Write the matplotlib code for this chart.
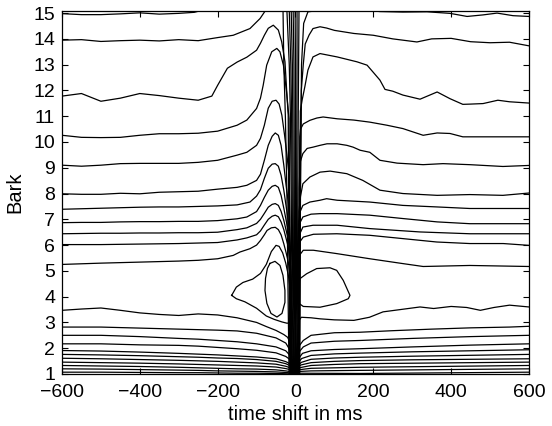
import matplotlib
matplotlib.use("Agg")
import matplotlib.pyplot as plt

plt.rcParams['font.family'] = ['Liberation Sans', 'DejaVu Sans']

# ---------------- axis ticks ----------------
x_ticks = [-600, -400, -200, 0, 200, 400, 600]
y_ticks = list(range(1, 16))

# ---------------- left-side contour lines (x in ms, y in Bark) ----------------
L15_x = [-600, -550, -500, -450, -400, -350, -300, -260, -230, -150, -60, -32, -30, -26, -22, -19, -16.5]
L15_y = [14.98, 14.94, 14.94, 14.97, 15.01, 14.96, 14.99, 15.03, 15.15, 15.2, 15.2, 15.1, 13.0, 11.0, 8.0, 4.0, 1.0]

L13_9_x = [-600, -550, -500, -450, -400, -350, -300, -250, -200, -160, -117, -91, -78, -72]
L13_9_y = [13.95, 13.97, 13.9, 13.93, 13.95, 13.92, 13.97, 13.93, 14.05, 14.14, 14.4, 14.79, 15.08, 15.3]

L11_7_x = [-600, -550, -500, -450, -400, -350, -300, -250, -215, -200, -175, -150, -125, -100, -90, -80, -70,
           -57, -44, -35.5, -27, -23, -18.7, -17.5, -16, -14.5]
L11_7_y = [11.78, 11.88, 11.58, 11.7, 11.88, 11.8, 11.7, 11.62, 11.78, 12.2, 12.86, 13.1, 13.29, 13.56, 13.83,
           14.14, 14.41, 14.53, 14.34, 13.89, 13.11, 12.08, 11.04, 8.0, 5.0, 1.0]

L10_2_x = [-600, -550, -500, -450, -400, -350, -300, -250, -200, -150, -125, -100, -90, -83, -74, -61, -48, -40,
           -31, -23, -16.5, -15.3, -14.3, -13.6]
L10_2_y = [10.26, 10.18, 10.17, 10.18, 10.26, 10.32, 10.32, 10.34, 10.42, 10.65, 10.85, 11.3, 11.7, 12.2, 12.98,
           13.5, 13.63, 13.5, 12.98, 11.94, 10.91, 8.0, 5.0, 1.0]

L9_1_x = [-600, -550, -500, -450, -400, -350, -300, -250, -200, -150, -125, -100, -90, -80, -70, -60, -50, -42,
          -35, -28, -22, -16.5, -14.5, -13.5, -12.7]
L9_1_y = [9.1, 9.06, 9.1, 9.16, 9.17, 9.17, 9.17, 9.21, 9.29, 9.49, 9.6, 9.87, 10.14, 10.65, 11.31, 11.58, 11.62,
          11.47, 11.04, 10.26, 9.5, 8.7, 7.0, 4.5, 1.0]

L8_0_x = [-600, -550, -500, -450, -400, -350, -300, -250, -200, -150, -125, -100, -90, -80, -70, -60, -52, -44,
          -37, -30, -24, -18, -13.5, -12.6, -11.8]
L8_0_y = [7.99, 7.97, 7.97, 8.01, 7.99, 8.05, 8.07, 8.09, 8.17, 8.24, 8.32, 8.51, 8.75, 9.29, 9.87, 10.22, 10.35,
          10.26, 9.87, 9.1, 8.3, 7.6, 6.0, 4.0, 1.0]

L7_4_x = [-600, -550, -500, -450, -400, -350, -300, -250, -200, -150, -117, -100, -90, -80, -70, -60, -52, -44,
          -37, -30, -24, -18, -13, -11.8, -10.9]
L7_4_y = [7.39, 7.41, 7.43, 7.45, 7.47, 7.48, 7.48, 7.5, 7.52, 7.56, 7.67, 7.9, 8.15, 8.59, 8.98, 9.14, 9.16,
          9.06, 8.71, 8.13, 7.5, 6.9, 5.5, 3.5, 1.0]

L6_9_x = [-600, -550, -500, -450, -400, -350, -300, -250, -200, -150, -125, -100, -90, -80, -70, -60, -52, -44,
          -37, -30, -24, -18, -12.5, -11, -10]
L6_9_y = [6.87, 6.88, 6.88, 6.9, 6.91, 6.91, 6.92, 6.92, 6.95, 7.02, 7.09, 7.3, 7.54, 7.85, 8.13, 8.28, 8.32,
          8.24, 7.93, 7.43, 6.96, 6.5, 5.2, 3.2, 1.0]

L6_4_x = [-600, -550, -500, -450, -400, -350, -300, -250, -200, -150, -125, -100, -90, -80, -70, -60, -52, -44,
          -37, -30, -24, -18, -12, -10.2, -9.2]
L6_4_y = [6.44, 6.45, 6.46, 6.46, 6.47, 6.47, 6.48, 6.48, 6.5, 6.6, 6.67, 6.84, 7.0, 7.23, 7.47, 7.58, 7.61,
          7.54, 7.31, 6.96, 6.57, 6.2, 5.0, 3.0, 1.0]

L6_0_x = [-600, -550, -500, -450, -400, -350, -300, -250, -200, -150, -125, -100, -90, -80, -70, -60, -52, -44,
          -37, -30, -24, -18, -11.5, -9.6, -8.4]
L6_0_y = [6.02, 6.02, 6.02, 6.03, 6.04, 6.05, 6.06, 6.08, 6.1, 6.2, 6.28, 6.4, 6.55, 6.78, 7.0, 7.12, 7.16,
          7.1, 6.9, 6.6, 6.25, 5.9, 4.8, 2.8, 1.0]

L5_2_x = [-600, -500, -400, -300, -250, -200, -160, -143, -117, -100, -90, -80, -73, -62, -52, -44, -37, -30,
          -24, -18, -11, -9, -7.8]
L5_2_y = [5.25, 5.3, 5.34, 5.38, 5.41, 5.47, 5.6, 5.73, 5.86, 6.0, 6.18, 6.4, 6.57, 6.67, 6.69, 6.6, 6.4, 6.05,
          5.7, 5.3, 4.5, 2.6, 1.0]

# closed loops around the local extremum left of zero
outer_loop_x = [-164, -152, -135, -110, -90, -75, -62, -50, -42, -33, -25, -18, -13, -10.5, -10, -14, -22, -35,
                -55, -75, -100, -130, -152, -164]
outer_loop_y = [4.05, 4.37, 4.55, 4.68, 4.9, 5.25, 5.75, 5.99, 5.95, 5.7, 5.3, 4.8, 4.2, 3.6, 3.05, 2.98, 2.97,
                3.02, 3.12, 3.25, 3.55, 3.8, 3.92, 4.05]
inner_loop_x = [-65.5, -52.7, -39.8, -32.2, -27.1, -27.1, -34.7, -47.6, -63, -73.5, -78.4, -77, -72, -65.5]
inner_loop_y = [5.29, 5.37, 5.21, 4.83, 4.24, 3.78, 3.35, 3.21, 3.35, 3.74, 4.24, 4.71, 5.1, 5.29]

# lower left lines
L3_5_x = [-600, -550, -500, -450, -400, -350, -300, -250, -200, -150, -100, -75, -50, -30, -20, -14, -10, -8.6]
L3_5_y = [3.47, 3.52, 3.56, 3.47, 3.37, 3.31, 3.27, 3.33, 3.29, 3.18, 3.0, 2.84, 2.69, 2.53, 2.42, 2.2, 1.6, 1.0]
low_x = [-600, -500, -400, -300, -250, -200, -150, -100, -50]
L2_8_y = [2.82, 2.82, 2.78, 2.74, 2.72, 2.7, 2.67, 2.58, 2.4]
L2_5_y = [2.5, 2.5, 2.45, 2.38, 2.35, 2.3, 2.25, 2.17, 2.05]
L2_1_y = [2.17, 2.17, 2.13, 2.11, 2.08, 2.03, 1.98, 1.92, 1.82]
L1_9_y = [1.91, 1.89, 1.85, 1.8, 1.77, 1.74, 1.7, 1.66, 1.59]
L1_8_y = [1.76, 1.74, 1.71, 1.67, 1.65, 1.62, 1.6, 1.56, 1.49]
L1_6_y = [1.61, 1.59, 1.56, 1.53, 1.51, 1.49, 1.46, 1.43, 1.38]
L1_5_y = [1.46, 1.44, 1.42, 1.39, 1.37, 1.35, 1.33, 1.31, 1.27]
L1_3_y = [1.33, 1.31, 1.29, 1.26, 1.24, 1.22, 1.2, 1.19, 1.16]
L1_2_y = [1.2, 1.19, 1.17, 1.15, 1.14, 1.12, 1.11, 1.1, 1.08]
L1_1_y = [1.07, 1.07, 1.06, 1.05, 1.05, 1.04, 1.03, 1.03, 1.02]
# near-zero ends of those lower lines (x then y)
L2_8_end_x = [-25, -15, -10, -8.2]; L2_8_end_y = [2.2, 1.95, 1.5, 1.0]
L2_5_end_x = [-25, -14, -9.5, -7.8]; L2_5_end_y = [1.9, 1.72, 1.4, 1.0]
L2_1_end_x = [-25, -13, -9, -7.4]; L2_1_end_y = [1.68, 1.55, 1.3, 1.0]
L1_9_end_x = [-25, -12, -8.5, -7.0]; L1_9_end_y = [1.48, 1.38, 1.2, 1.0]
L1_8_end_x = [-25, -11, -8, -6.6]; L1_8_end_y = [1.4, 1.3, 1.15, 1.0]
L1_6_end_x = [-25, -10, -7.5, -6.2]; L1_6_end_y = [1.3, 1.22, 1.1, 1.0]
L1_5_end_x = [-25, -9, -7, -5.8]; L1_5_end_y = [1.21, 1.15, 1.07, 1.0]
L1_3_end_x = [-25, -8, -6.5, -5.4]; L1_3_end_y = [1.12, 1.08, 1.04, 1.0]
L1_2_end_x = [-25, -7, -5.0]; L1_2_end_y = [1.06, 1.03, 1.0]
L1_1_end_x = [-25, -4.6]; L1_1_end_y = [1.01, 1.0]

# ---------------- central bundle (lines running top to bottom) ----------------
bundle_y = [15.08, 13, 11, 8, 4, 1]
P1_x = [-22, -16, -13, -11, -9, -4.5]
P2_x = [-16, -12, -10, -8.5, -7, -3.5]
P3_x = [-11, -8, -7, -6, -5, -2.5]
P4_x = [-6, -4, -3.5, -3, -2.5, -1.3]
P5_x = [-1, 0, 0, 0, 0, 0]
P6_x = [4, 4, 3.5, 3, 2.5, 1.0]
P7_x = [9, 8, 7, 6, 5, 2.0]

# ---------------- right-side contour lines ----------------
R14_8_x = [11, 12.8, 15.5, 21, 32, 60, 120, 190, 217, 276, 338, 397, 441, 482, 518, 559, 600]
R14_8_y = [1.0, 8.0, 13.0, 14.6, 15.05, 15.1, 15.1, 15.1, 15.06, 15.04, 15.05, 14.99, 14.87, 14.93, 15.0, 14.9, 14.87]

R13_7_x = [10, 11.5, 13, 15, 20, 25, 35, 45, 63, 80, 100, 150, 200, 250, 312, 350, 400, 450, 500, 550, 600]
R13_7_y = [1.0, 5.0, 9.0, 12.0, 13.0, 13.8, 14.15, 14.4, 14.47, 14.42, 14.33, 14.21, 14.14, 14.0, 13.88, 14.0,
           14.02, 13.89, 13.85, 13.87, 13.73]

R11_5_x = [9.5, 10.5, 11.5, 12.5, 17, 24, 32, 45, 63, 80, 107, 158, 184, 200, 217, 230, 250, 276, 320, 364, 397,
           430, 450, 482, 520, 550, 600]
R11_5_y = [1.0, 5.0, 9.0, 11.2, 11.62, 12.14, 12.79, 13.3, 13.43, 13.38, 13.3, 13.11, 12.98, 12.7, 12.4, 12.04,
           11.97, 11.82, 11.66, 11.94, 11.68, 11.46, 11.47, 11.49, 11.62, 11.56, 11.51]

R10_2_x = [8.6, 9.3, 10.0, 11, 13, 20, 37, 55, 71, 107, 150, 191, 235, 276, 328, 364, 397, 430, 466, 533, 600]
R10_2_y = [1.0, 5.0, 8.5, 10.2, 10.5, 10.7, 10.84, 10.93, 10.97, 10.9, 10.85, 10.77, 10.65, 10.52, 10.26, 10.35,
           10.33, 10.2, 10.2, 10.2, 10.2]

R9_0_x = [8.2, 8.8, 9.5, 12, 19, 30, 45, 63, 81, 107, 132, 148, 166, 191, 217, 261, 328, 379, 448, 533, 600]
R9_0_y = [1.0, 4.5, 8.2, 9.22, 9.55, 9.75, 9.8, 9.87, 9.93, 9.93, 9.87, 9.8, 9.68, 9.6, 9.29, 9.18, 9.12, 9.16,
          9.12, 9.05, 9.09]

R8_0_x = [7.8, 8.4, 9, 13, 19, 37, 63, 89, 132, 173, 217, 276, 364, 448, 533, 600]
R8_0_y = [1.0, 4.0, 7.3, 7.9, 8.38, 8.64, 8.83, 8.87, 8.77, 8.51, 8.13, 8.0, 7.93, 7.96, 7.93, 8.02]

R7_4_x = [7.4, 8.0, 8.6, 12, 19, 37, 63, 80, 107, 191, 276, 364, 448, 600]
R7_4_y = [1.0, 3.8, 6.9, 7.3, 7.54, 7.67, 7.74, 7.8, 7.74, 7.67, 7.54, 7.48, 7.42, 7.42]

R6_8_x = [7, 7.6, 8.2, 11, 19, 40, 63, 107, 191, 276, 364, 448, 600]
R6_8_y = [1.0, 3.5, 6.4, 6.85, 7.09, 7.2, 7.22, 7.22, 7.16, 7.03, 6.9, 6.83, 6.83]

R6_4_x = [6.6, 7.2, 7.8, 10, 19, 45, 107, 191, 320, 448, 600]
R6_4_y = [1.0, 3.3, 6.0, 6.4, 6.7, 6.77, 6.77, 6.64, 6.51, 6.44, 6.44]

R6_0_x = [6.2, 6.8, 7.5, 10, 20, 46, 106, 191, 277, 363, 448, 534, 600]
R6_0_y = [1.0, 3.1, 5.7, 6.1, 6.31, 6.42, 6.44, 6.38, 6.25, 6.12, 6.06, 6.06, 5.99]

R5_2_x = [5.8, 6.4, 7.2, 10, 20, 46, 106, 191, 277, 328, 448, 600]
R5_2_y = [1.0, 2.9, 5.2, 5.6, 5.8, 5.8, 5.67, 5.47, 5.28, 5.17, 5.21, 5.17]

arch_x = [7, 11.6, 28.8, 54.5, 88.7, 105.9, 122.8, 140, 135.7, 106, 63, 20, 8, 7]
arch_y = [4.4, 4.7, 4.89, 5.09, 5.12, 5.02, 4.63, 4.05, 3.92, 3.73, 3.59, 3.62, 3.75, 4.4]

R3_6_x = [5.4, 6, 7, 10, 15, 40, 63, 100, 150, 190, 225, 270, 320, 355, 400, 440, 475, 510, 550, 600]
R3_6_y = [1.0, 2.2, 2.9, 3.1, 3.2, 3.18, 3.14, 3.1, 3.08, 3.2, 3.41, 3.5, 3.6, 3.54, 3.62, 3.58, 3.47, 3.58,
          3.67, 3.6]

R2_8_x = [5, 6, 10, 20, 40, 100, 166, 250, 350, 450, 550, 600]
R2_8_y = [1.0, 1.6, 2.1, 2.3, 2.5, 2.6, 2.62, 2.68, 2.74, 2.79, 2.82, 2.85]
R2_5_x = [4.6, 5.6, 9, 20, 40, 100, 166, 300, 450, 600]
R2_5_y = [1.0, 1.5, 1.85, 2.05, 2.2, 2.27, 2.3, 2.38, 2.45, 2.5]
R2_2_x = [4.2, 5.2, 8, 18, 40, 100, 166, 300, 450, 600]
R2_2_y = [1.0, 1.4, 1.6, 1.8, 1.9, 1.95, 1.98, 2.05, 2.12, 2.17]
R1_9_x = [3.8, 4.8, 7, 16, 40, 100, 166, 300, 600]
R1_9_y = [1.0, 1.3, 1.45, 1.6, 1.72, 1.78, 1.81, 1.86, 1.94]
R1_8_x = [3.4, 4.4, 6.5, 15, 40, 100, 166, 300, 600]
R1_8_y = [1.0, 1.22, 1.33, 1.45, 1.57, 1.62, 1.65, 1.69, 1.76]
R1_6_x = [3, 4, 6, 14, 40, 100, 166, 300, 600]
R1_6_y = [1.0, 1.16, 1.25, 1.35, 1.44, 1.49, 1.52, 1.55, 1.59]
R1_5_x = [2.6, 3.6, 5.5, 13, 40, 100, 166, 600]
R1_5_y = [1.0, 1.1, 1.17, 1.25, 1.33, 1.37, 1.4, 1.46]
R1_3_x = [2.2, 3.2, 5, 12, 40, 166, 600]
R1_3_y = [1.0, 1.06, 1.1, 1.17, 1.22, 1.26, 1.33]
R1_2_x = [1.8, 3, 11, 40, 166, 600]
R1_2_y = [1.0, 1.04, 1.1, 1.12, 1.14, 1.2]
R1_1_x = [1.5, 10, 166, 600]
R1_1_y = [1.0, 1.03, 1.02, 1.07]

# ---------------- assemble ----------------
lines = [
    (L15_x, L15_y), (L13_9_x, L13_9_y), (L11_7_x, L11_7_y), (L10_2_x, L10_2_y), (L9_1_x, L9_1_y),
    (L8_0_x, L8_0_y), (L7_4_x, L7_4_y), (L6_9_x, L6_9_y), (L6_4_x, L6_4_y), (L6_0_x, L6_0_y),
    (L5_2_x, L5_2_y), (outer_loop_x, outer_loop_y), (inner_loop_x, inner_loop_y), (L3_5_x, L3_5_y),
]
for ys, ex, ey in [(L2_8_y, L2_8_end_x, L2_8_end_y), (L2_5_y, L2_5_end_x, L2_5_end_y),
                   (L2_1_y, L2_1_end_x, L2_1_end_y), (L1_9_y, L1_9_end_x, L1_9_end_y),
                   (L1_8_y, L1_8_end_x, L1_8_end_y), (L1_6_y, L1_6_end_x, L1_6_end_y),
                   (L1_5_y, L1_5_end_x, L1_5_end_y), (L1_3_y, L1_3_end_x, L1_3_end_y),
                   (L1_2_y, L1_2_end_x, L1_2_end_y), (L1_1_y, L1_1_end_x, L1_1_end_y)]:
    lines.append((low_x + ex, ys + ey))
for px in [P1_x, P2_x, P3_x, P4_x, P5_x, P6_x, P7_x]:
    lines.append((px, bundle_y))
lines += [
    (R14_8_x, R14_8_y), (R13_7_x, R13_7_y), (R11_5_x, R11_5_y), (R10_2_x, R10_2_y), (R9_0_x, R9_0_y),
    (R8_0_x, R8_0_y), (R7_4_x, R7_4_y), (R6_8_x, R6_8_y), (R6_4_x, R6_4_y), (R6_0_x, R6_0_y),
    (R5_2_x, R5_2_y), (arch_x, arch_y), (R3_6_x, R3_6_y), (R2_8_x, R2_8_y), (R2_5_x, R2_5_y),
    (R2_2_x, R2_2_y), (R1_9_x, R1_9_y), (R1_8_x, R1_8_y), (R1_6_x, R1_6_y), (R1_5_x, R1_5_y),
    (R1_3_x, R1_3_y), (R1_2_x, R1_2_y), (R1_1_x, R1_1_y),
]

fig = plt.figure(figsize=(5.52, 4.26), dpi=100)
ax = fig.add_axes([0.1123, 0.1221, 0.846, 0.852])
for xs, ys in lines:
    ax.plot(xs, ys, color='black', lw=0.9, solid_joinstyle='round')

ax.set_xlim(-600, 600)
ax.set_ylim(1, 15.08)
ax.set_xticks(x_ticks)
ax.set_yticks(y_ticks)
ax.tick_params(direction='in', length=4, width=0.8, top=True, right=True, labelsize=14)
ax.tick_params(axis='x', pad=7)
ax.tick_params(axis='y', pad=5)
for s in ax.spines.values():
    s.set_linewidth(0.9)
ax.set_xlabel('time shift in ms', fontsize=14.5, labelpad=3)
ax.set_ylabel('Bark', fontsize=14.5, labelpad=6)

fig.savefig('out.png', dpi=100)
